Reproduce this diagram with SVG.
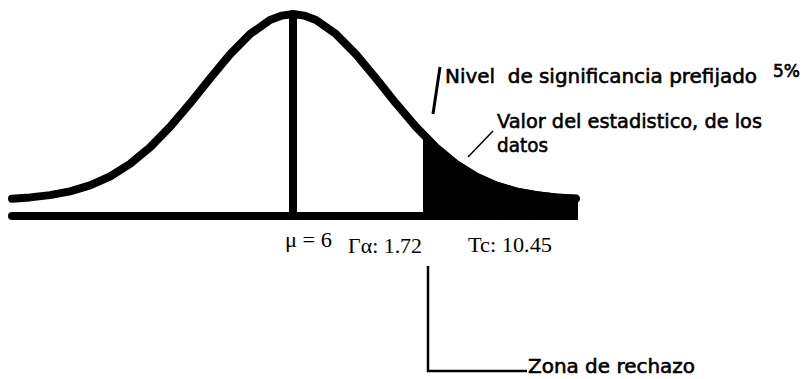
<svg xmlns="http://www.w3.org/2000/svg" width="805" height="379" viewBox="0 0 805 379">
  <style>
    .thick { fill: none; stroke: #000; stroke-width: 8; }
    .lead { fill: none; stroke: #000; }
    .sans { font-family: "DejaVu Sans", "Liberation Sans", sans-serif; font-size: 20px; fill: #000; stroke: #000; stroke-width: 0.6px; }
    .serif { font-family: "Liberation Serif", "Times New Roman", serif; font-size: 22px; fill: #000; }
  </style>
  <rect x="0" y="0" width="805" height="379" fill="#fff"/>

  <g id="rejection-area">
    <polygon fill="#000" points="423,131 436,143.4 456,159.9 476,172.5 496,181.4 516,187.4 536,191.1 556,193.4 578,194.7 578,220 423,220"/>
  </g>

  <g id="normal-curve">
    <polyline class="thick" stroke-linecap="round" stroke-linejoin="round" points="12,198.7 30,197.4 50,195.1 70,191.4 90,185.4 110,176.5 130,163.9 150,147.4 170,126.9 190,103.4 210,78.4 230,54.4 250,34.1 270,20 282,15.6 293,14 304,15.6 316,20 336,34.1 356,54.4 376,78.4 396,103.4 416,126.9 436,147.4 456,163.9 476,176.5 496,185.4 516,191.4 536,195.1 556,197.4 576,198.7"/>
  </g>

  <g id="axis">
    <line class="thick" x1="12" y1="216" x2="578" y2="216" stroke-linecap="butt"/>
    <circle cx="12" cy="216" r="4" fill="#000"/>
  </g>

  <g id="mean-line">
    <line class="thick" x1="293" y1="14" x2="293" y2="216"/>
  </g>

  <g id="connectors">
    <line class="lead" stroke-width="3" x1="433" y1="114" x2="440" y2="67"/>
    <line class="lead" stroke-width="1.5" x1="468" y1="157" x2="493" y2="131"/>
    <polyline class="lead" stroke-width="2.5" points="428,266 428,371 527,371"/>
  </g>

  <g id="label-nivel">
    <text class="sans" x="445" y="83" textLength="312" lengthAdjust="spacingAndGlyphs" xml:space="preserve">Nivel  de significancia prefijado</text>
    <text class="sans" x="773" y="77" style="font-size:17px" textLength="27" lengthAdjust="spacingAndGlyphs">5%</text>
  </g>

  <g id="label-valor">
    <text class="sans" x="497" y="128" textLength="265" lengthAdjust="spacingAndGlyphs">Valor del estadistico, de los</text>
    <text class="sans" x="497" y="152" textLength="51" lengthAdjust="spacingAndGlyphs">datos</text>
  </g>

  <g id="label-zona">
    <text class="sans" x="528" y="373" textLength="167" lengthAdjust="spacingAndGlyphs">Zona de rechazo</text>
  </g>

  <g id="axis-labels">
    <text class="serif" x="285" y="247" textLength="47" lengthAdjust="spacingAndGlyphs">μ = 6</text>
    <text class="serif" x="348" y="253" textLength="74" lengthAdjust="spacingAndGlyphs">Γα: 1.72</text>
    <text class="serif" x="468" y="252" textLength="84" lengthAdjust="spacingAndGlyphs">Tc: 10.45</text>
  </g>
</svg>
